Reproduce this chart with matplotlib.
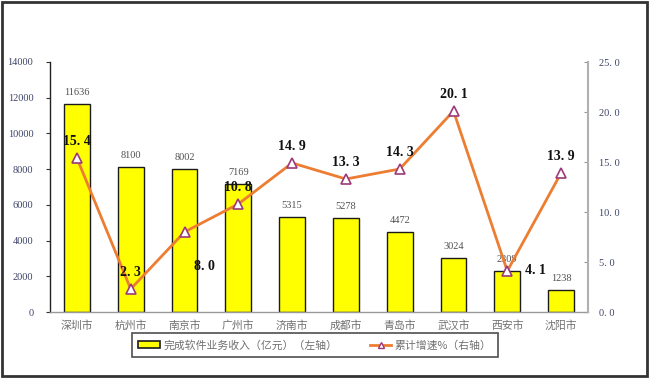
import matplotlib
matplotlib.use("Agg")
import matplotlib.pyplot as plt
from matplotlib.patches import Rectangle, Patch
from matplotlib.lines import Line2D

plt.rcParams['font.family'] = ['Liberation Serif', 'Noto Sans CJK SC', 'DejaVu Sans']

cities = ["深圳市", "杭州市", "南京市", "广州市", "济南市", "成都市", "青岛市", "武汉市", "西安市", "沈阳市"]
revenue = [11636, 8100, 8002, 7169, 5315, 5278, 4472, 3024, 2309, 1238]
growth = [15.4, 2.3, 8.0, 10.8, 14.9, 13.3, 14.3, 20.1, 4.1, 13.9]
left_ticks = [0, 2000, 4000, 6000, 8000, 10000, 12000, 14000]
right_ticks = [0, 5, 10, 15, 20, 25]
legend_labels = ["完成软件业务收入（亿元）（左轴）", "累计增速%（右轴）"]

W, H = 650, 379
fig = plt.figure(figsize=(W / 100, H / 100), dpi=100)
ax = fig.add_axes([50 / W, 1 - 312 / H, (588 - 50) / W, (312 - 62) / H])
ax2 = ax.twinx()

x = list(range(len(cities)))
ax.bar(x, revenue, width=0.48, color="#FFFF00", edgecolor="#1a1a1a", linewidth=1.0, zorder=2)
ax.set_xlim(-0.5, len(cities) - 0.5)
ax.set_ylim(0, 14000)
ax.set_yticks(left_ticks)
ax.set_yticklabels([str(v) for v in left_ticks], fontsize=7.5, color="#3d4468")
ax.set_xticks(x)
ax.set_xticklabels(cities, fontsize=7.8, color="#707070", family=['Noto Sans CJK SC'])
ax.tick_params(axis='x', length=0, pad=6)
ax.tick_params(axis='y', length=3, width=0.8, pad=9, direction='out', color='#333333')

for xi, v in zip(x, revenue):
    ax.annotate(str(v), (xi, v), xytext=(0, 5), textcoords='offset points',
                ha='center', va='bottom', fontsize=7.5, color="#505050")

ax2.plot(x, growth, color="#ED7D31", linewidth=2, zorder=3,
         marker='^', markersize=7, markerfacecolor='white',
         markeredgecolor='#9B3A7A', markeredgewidth=1.2)
ax2.set_ylim(0, 25)
ax2.set_yticks(right_ticks)
ax2.set_yticklabels([f"{v:.1f}".replace('.', '. ') for v in right_ticks], fontsize=7.5, color="#3d4468")
ax2.tick_params(axis='y', length=3, width=0.8, direction='in', pad=8, color='#999999')

# label offsets in points (dx, dy), centered on text
offsets = {2: (14, -25), 8: (20, 0)}
for xi, v in zip(x, growth):
    dx, dy = offsets.get(xi, (0, 12))
    ax2.annotate(f"{v:.1f}".replace('.', '. '), (xi, v), xytext=(dx, dy),
                 textcoords='offset points', ha='center', va='center',
                 fontsize=10, fontweight='bold', color='#111111')

for a in (ax, ax2):
    a.spines['top'].set_visible(False)
ax.spines['left'].set_color('#222222')
ax.spines['left'].set_linewidth(1.0)
ax.spines['bottom'].set_color('#999999')
ax.spines['bottom'].set_linewidth(1.0)
ax.spines['right'].set_visible(False)
ax2.spines['left'].set_visible(False)
ax2.spines['bottom'].set_visible(False)
ax2.spines['right'].set_color('#b0b0b0')
ax2.spines['right'].set_linewidth(1.5)

handles = [Patch(facecolor="#FFFF00", edgecolor="#1a1a1a", linewidth=1.2),
           Line2D([0], [0], color="#ED7D31", linewidth=2, marker='^', markersize=5,
                  markerfacecolor='white', markeredgecolor='#9B3A7A')]
leg = fig.legend(handles, legend_labels, loc='center', bbox_to_anchor=(315 / W, 1 - 345 / H),
                 ncol=2, frameon=True, fancybox=False, handlelength=2.0,
                 handleheight=0.6, handletextpad=0.3, columnspacing=3.0, borderpad=0.6,
                 prop={'family': ['Noto Sans CJK SC'], 'size': 7.8})
leg.get_frame().set_edgecolor('#222222')
leg.get_frame().set_linewidth(1.2)
for t in leg.get_texts():
    t.set_color('#707070')

fig.patches.append(Rectangle((1.5 / W, 1 - 375.5 / H), 645 / W, 374 / H, transform=fig.transFigure,
                             fill=False, edgecolor='#333333', linewidth=2))

fig.savefig("out.png", dpi=100)
